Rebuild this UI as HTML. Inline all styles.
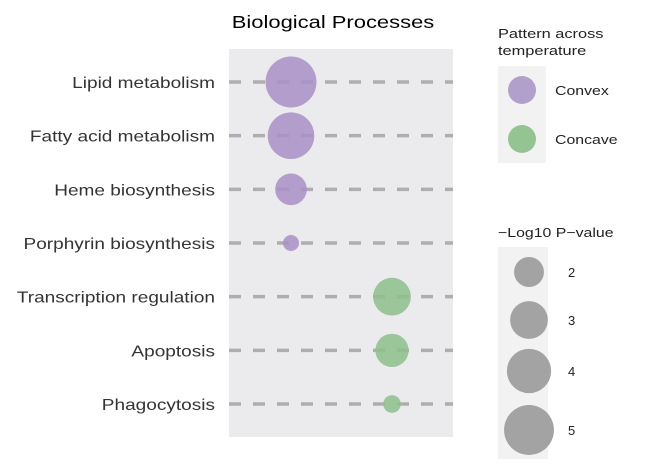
<!DOCTYPE html>
<html><head><meta charset="utf-8"><style>
body{margin:0;background:#fff;font-family:"Liberation Sans",Arial,sans-serif}
</style></head><body>
<svg width="650" height="459" xmlns="http://www.w3.org/2000/svg" style="font-family:'Liberation Sans',Arial,sans-serif">
<rect x="229" y="49" width="224" height="388" fill="#ebebed"/>
<text transform="translate(333,28) scale(1.22,1)" font-size="18" text-anchor="middle" fill="#000">Biological Processes</text>
<g id="rows"></g>
<g id="marks"></g>
<text transform="translate(498,38) scale(1.26,1)" font-size="13" fill="#222">Pattern across</text>
<text transform="translate(498,55) scale(1.26,1)" font-size="13" fill="#222">temperature</text>
<rect x="498" y="66" width="48" height="97" fill="#f2f2f2"/>
<circle cx="522" cy="90" r="14" fill="#b19fcc"/>
<text transform="translate(555,95) scale(1.22,1)" font-size="13" fill="#222">Convex</text>
<circle cx="522" cy="139" r="14" fill="#95c493"/>
<text transform="translate(555,144) scale(1.22,1)" font-size="13" fill="#222">Concave</text>
<text transform="translate(498,237) scale(1.22,1)" font-size="13" fill="#222">−Log10 P−value</text>
<rect x="498" y="247" width="50" height="212" fill="#f2f2f2"/>
<g id="sizeleg"></g>
</svg>
<script>
const categories=["Lipid metabolism","Fatty acid metabolism","Heme biosynthesis","Porphyrin biosynthesis","Transcription regulation","Apoptosis","Phagocytosis"];
const patterns=["Convex","Convex","Convex","Convex","Concave","Concave","Concave"];
const pvalues=[5.2,4.4,2.2,0.8,3.0,2.4,0.9];
const sizeLegendValues=[2,3,4,5];
const NS="http://www.w3.org/2000/svg";
function yPos(i){return 82+i*53.67;}
function xPos(p){return p==="Convex"?291:392;}
function rad(v){return Math.sqrt(Math.max(20,-42+133*v));}
const rows=document.getElementById('rows'),marks=document.getElementById('marks'),sl=document.getElementById('sizeleg');
categories.forEach((c,i)=>{
 const y=yPos(i);
 const l=document.createElementNS(NS,'line');
 l.setAttribute('x1',229);l.setAttribute('x2',453);l.setAttribute('y1',y);l.setAttribute('y2',y);
 l.setAttribute('stroke','#aeaeae');l.setAttribute('stroke-width',3.5);l.setAttribute('stroke-dasharray','12 12');
 
 
 rows.appendChild(l);
 const t=document.createElementNS(NS,'text');
 t.setAttribute('transform','translate(215,'+(y+6)+') scale(1.19,1)');
 t.setAttribute('text-anchor','end');t.setAttribute('font-size',16);t.setAttribute('fill','#333');
 t.textContent=c;
 
 
 rows.appendChild(t);
 const ci=document.createElementNS(NS,'circle');
 ci.setAttribute('cx',xPos(patterns[i]));ci.setAttribute('cy',y);ci.setAttribute('r',rad(pvalues[i]));
 ci.setAttribute('fill',patterns[i]==="Convex"?'#a88fc7':'#8cc08a');ci.setAttribute('fill-opacity',0.85);
 
 
 marks.appendChild(ci);
});
const lys=[272,320,371,430];
sizeLegendValues.forEach((v,i)=>{
 const ci=document.createElementNS(NS,'circle');
 ci.setAttribute('cx',529);ci.setAttribute('cy',lys[i]);ci.setAttribute('r',rad(v));ci.setAttribute('fill','#a3a3a3');
 
 
 sl.appendChild(ci);
 const t=document.createElementNS(NS,'text');
 t.setAttribute('x',568);t.setAttribute('y',lys[i]+5);t.setAttribute('font-size',13);t.setAttribute('fill','#222');
 t.textContent=v;
 
 
 sl.appendChild(t);
});
</script>
</body></html>
